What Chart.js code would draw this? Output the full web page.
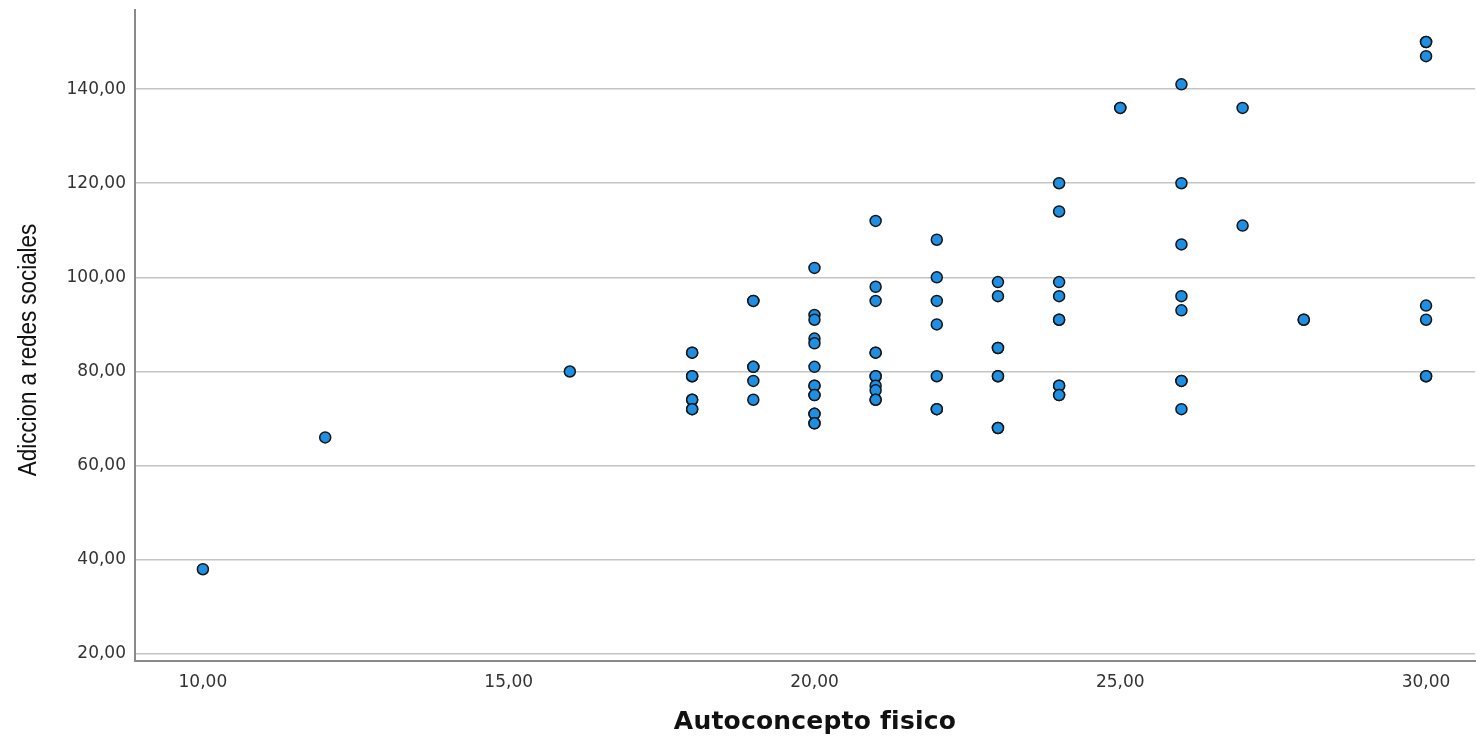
<!DOCTYPE html>
<html>
<head>
<meta charset="utf-8">
<script src="https://cdn.jsdelivr.net/npm/chart.js@4/dist/chart.umd.min.js"></script>
<style>
html,body{margin:0;padding:0;background:#fff;}
#wrap{width:1476px;height:739px;position:relative;}
</style>
</head>
<body>
<div id="wrap"><canvas id="c" width="1476" height="739"></canvas></div>
<script>
// Autoconcepto fisico (x) and Adiccion a redes sociales (y)
const xValues = [
  10, 12, 16,
  18,18,18,18,18,18,18,18,
  19,19,19,19,19,19,
  20,20,20,20,20,20,20,20,20,20,20,20,20,20,
  21,21,21,21,21,21,21,21,21,21,21,
  22,22,22,22,22,22,22,
  23,23,23,23,23,23,23,23,
  24,24,24,24,24,24,24,24,24,24,
  25,25,
  26,26,26,26,26,26,26,26,
  27,27,
  28,28,
  30,30,30,30,30,30,30
];
const yValues = [
  38, 66, 80,
  84,84,79,79,74,74,72,72,
  95,95,81,81,78,74,
  102,92,91,87,86,81,77,77,75,75,71,71,69,69,
  112,98,95,84,84,79,79,77,76,74,74,
  108,100,95,90,79,72,72,
  99,96,85,85,79,79,68,68,
  120,114,99,96,91,91,77,77,75,75,
  136,136,
  141,120,107,96,93,78,78,72,
  136,111,
  91,91,
  150,150,147,94,91,79,79
];
const xTicks = [10, 15, 20, 25, 30];
const yTicks = [20, 40, 60, 80, 100, 120, 140];
const xTitle = 'Autoconcepto fisico';
const yTitle = 'Adiccion a redes sociales';

const points = xValues.map((x, i) => ({x: x, y: yValues[i]}));
const fmt = v => Number(v).toFixed(2).replace('.', ',');

// axis titles drawn as real canvas text
const titlePlugin = {
  id: 'axisTitles',
  afterDraw(chart) {
    const ctx = chart.ctx;
    ctx.save();
    ctx.translate(29, 350);
    ctx.rotate(-Math.PI / 2);
    ctx.scale(0.86, 1);
    ctx.font = '26px "Liberation Sans", Arial, sans-serif';
    ctx.fillStyle = '#111';
    ctx.textAlign = 'center';
    ctx.textBaseline = 'middle';
    ctx.fillText(yTitle, 0, 0);
    ctx.restore();

    ctx.save();
    ctx.font = 'bold 25px "DejaVu Sans", sans-serif';
    if ('letterSpacing' in ctx) ctx.letterSpacing = '0.2px';
    ctx.fillStyle = '#111';
    ctx.textAlign = 'center';
    ctx.textBaseline = 'middle';
    ctx.fillText(xTitle, 815, 722);
    ctx.restore();
  }
};

new Chart(document.getElementById('c'), {
  type: 'scatter',
  data: {
    datasets: [{
      data: points,
      backgroundColor: '#1f8fe3',
      borderColor: '#161616',
      borderWidth: 1.5,
      pointRadius: 5.5,
      pointHoverRadius: 5.5
    }]
  },
  plugins: [titlePlugin],
  options: {
    responsive: false,
    animation: false,
    events: [],
    layout: {autoPadding: false, padding: {top: 10, right: 1, bottom: 0, left: 0}},
    plugins: {legend: {display: false}, tooltip: {enabled: false}},
    scales: {
      x: {
        type: 'linear',
        min: 8.89,
        max: 30.8,
        afterBuildTicks: s => { s.ticks = xTicks.map(v => ({value: v})); },
        afterFit: s => { s.height = 78; s.paddingLeft = 0; s.paddingRight = 0; },
        grid: {display: false, drawTicks: false},
        border: {display: true, color: '#8a8a8a', width: 2},
        ticks: {
          callback: v => fmt(v),
          color: '#333',
          font: {family: 'DejaVu Sans', size: 17},
          padding: 11,
          maxRotation: 0,
          autoSkip: false
        },
        title: {display: false}
      },
      y: {
        type: 'linear',
        min: 18.5,
        max: 156.8,
        afterBuildTicks: s => { s.ticks = yTicks.map(v => ({value: v})); },
        afterFit: s => { s.width = 135; s.paddingTop = 0; s.paddingBottom = 0; },
        grid: {display: true, drawTicks: false, color: '#c4c4c4', lineWidth: 1.5},
        border: {display: true, color: '#8a8a8a', width: 2},
        ticks: {
          callback: v => fmt(v),
          color: '#333',
          font: {family: 'DejaVu Sans', size: 17},
          padding: 9,
          autoSkip: false
        },
        title: {display: false}
      }
    }
  }
});
</script>
</body>
</html>
